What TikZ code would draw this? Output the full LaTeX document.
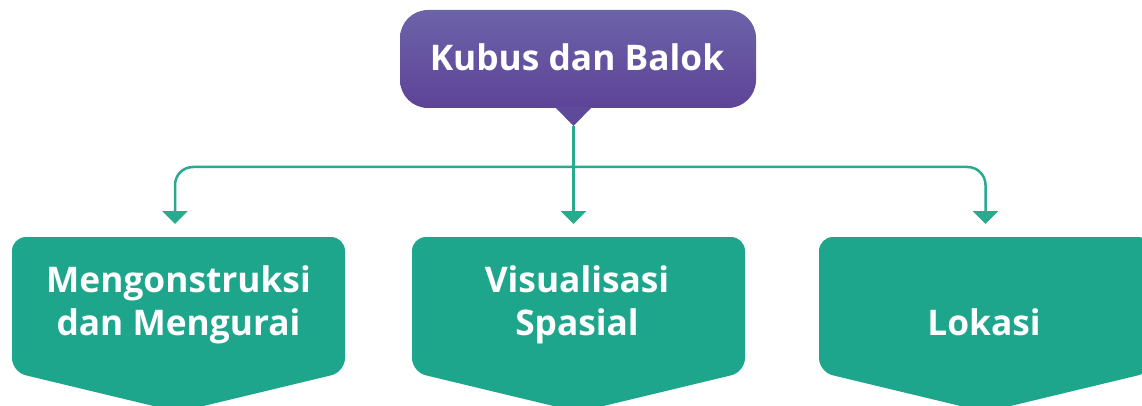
\documentclass[tikz,border=0pt]{standalone}
\usepackage{fontspec}
\setmainfont{Open Sans}
\usetikzlibrary{arrows.meta,calc}
\definecolor{boxgreen}{HTML}{1DA68B}
\definecolor{linegreen}{HTML}{27AA8D}
\definecolor{purpletop}{HTML}{6C63A9}
\definecolor{purplebot}{HTML}{5E4397}
\definecolor{purpletip}{HTML}{5D4A98}
\tikzset{
  conn/.style={draw=linegreen, line width=2.5pt, -{Triangle[width=25pt,length=13pt]}, rounded corners=18pt},
  slot/.style={minimum width=333pt, minimum height=175pt, inner sep=0pt, outer sep=0pt, anchor=north},
  boxtext/.style={text=white, font=\fontsize{35.3}{43}\selectfont\bfseries, align=center},
  boxshape/.style={fill=boxgreen, rounded corners=14pt},
}
\begin{document}
\begin{tikzpicture}[x=1pt,y=-1pt]
\useasboundingbox (0,0) rectangle (1142,406);
% title
\shade[top color=purpletop, bottom color=purplebot, rounded corners=28pt] (400,10) rectangle (756,108);
\fill[purpletip] (555,107) -- (592,107) -- (573.5,126) -- cycle;
\node[text=white, font=\fontsize{35.3}{40}\selectfont\bfseries, inner sep=0pt] (top) at (577,57) {Kubus dan Balok};
\coordinate (tip) at (573.5,126);
% box slots
\node[slot] (b1) at (178.5,237) {};
\node[slot] (b2) at (578.5,237) {};
\node[slot] (b3) at (985.5,237) {};
% box shapes
\foreach \b in {b1,b2,b3}{
  \fill[boxshape] (\b.north west) -- (\b.north east) -- ($(\b.north east)+(0,135)$) -- (\b.south) -- ($(\b.north west)+(0,135)$) -- cycle;
}
\node[boxtext] (t1) at (178.5,305) {Mengonstruksi\\dan Mengurai};
\node[boxtext] (t2) at (577,305) {Visualisasi\\Spasial};
\node[boxtext] (t3) at (984,322) {Lokasi};
% connectors
\coordinate (hub) at (573.5,167);
\draw[conn] (tip) -- ([yshift=13pt,xshift=-5pt]b2.north);
\draw[conn] (hub) -| ([yshift=13pt,xshift=-3.5pt]b1.north);
\draw[conn] (hub) -| ([yshift=13pt]b3.north);
\end{tikzpicture}
\end{document}
